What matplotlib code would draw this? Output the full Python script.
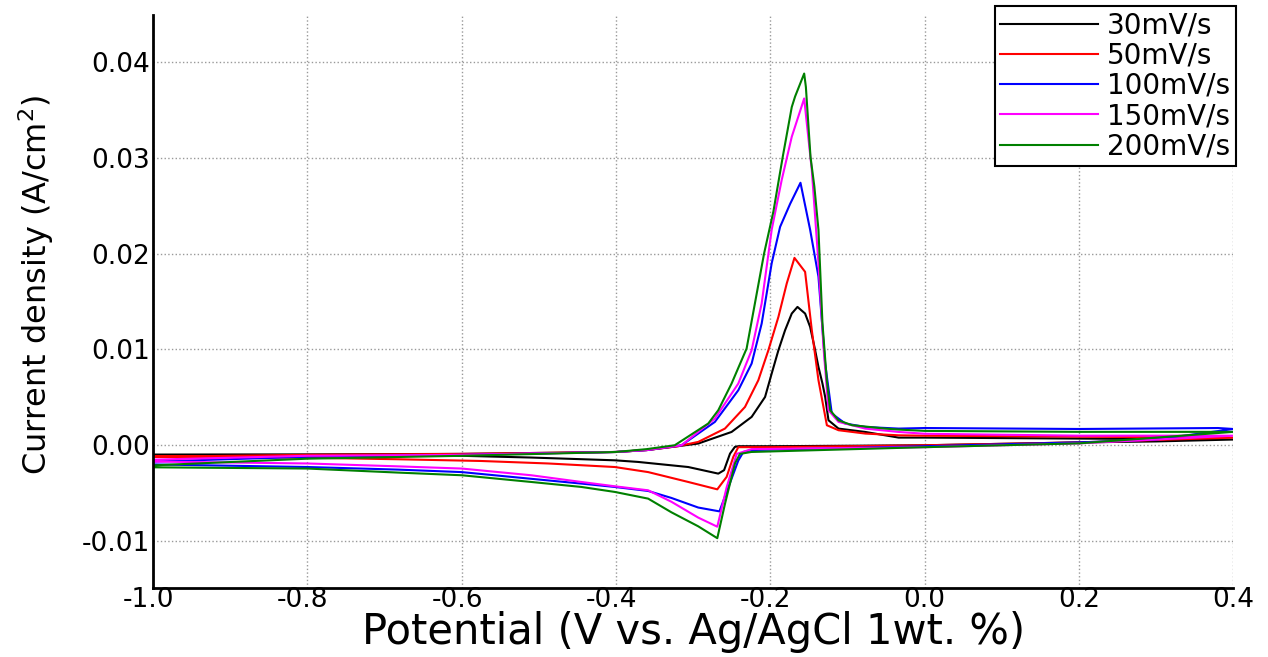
import matplotlib
matplotlib.use("Agg")
import matplotlib.pyplot as plt
import matplotlib.transforms as mtransforms

plt.rcParams['font.family'] = ['DejaVu Sans']
plt.rcParams['axes.unicode_minus'] = False

labels = ["30mV/s", "50mV/s", "100mV/s", "150mV/s", "200mV/s"]
colors = ["black", "red", "blue", "magenta", "green"]

# potential (V) and current density (A/cm2), forward scan then reverse scan
x_30 = [-1.0, -0.8, -0.6, -0.4, -0.36, -0.33, -0.2935, -0.2503, -0.2243, -0.2069, -0.1983,
        -0.1896, -0.181, -0.1723, -0.1649, -0.155, -0.1485, -0.1429, -0.1377, -0.1325, -0.129,
        -0.1247, -0.1117, -0.077, -0.0338, 0.0, 0.2, 0.4,
        0.4, 0.3, 0.2, 0.0, -0.2, -0.2416, -0.246, -0.2523, -0.26, -0.2675, -0.3065, -0.3714,
        -0.4017, -0.5104, -0.6, -0.8, -1.0]
y_30 = [-0.00097, -0.00095, -0.0009, -0.0007, -0.0005, -0.0002, 0.00018, 0.00139, 0.00296, 0.00504, 0.00749,
        0.00992, 0.012, 0.01375, 0.01444, 0.01375, 0.01236, 0.01027, 0.00818, 0.00644, 0.00504,
        0.00261, 0.00174, 0.00139, 0.0008, 0.0008, 0.0007, 0.0006,
        0.0006, 0.0004, 0.0003, 0.0, -0.0001, -0.0001, -0.00017, -0.00087, -0.0026, -0.00296, -0.00227, -0.00174,
        -0.00157, -0.00128, -0.0011, -0.00105, -0.00104]

x_50 = [-1.0, -0.8, -0.6, -0.4, -0.36, -0.32, -0.2935, -0.2589, -0.2329, -0.2156, -0.2026,
        -0.1896, -0.1788, -0.1688, -0.155, -0.1463, -0.1377, -0.1268, -0.1117, -0.077, -0.0338,
        0.0, 0.2, 0.4,
        0.4, 0.2, 0.0, -0.2, -0.2416, -0.248, -0.2567, -0.2688, -0.3065, -0.3584, -0.4017,
        -0.488, -0.575, -0.683, -0.8, -1.0]
y_50 = [-0.0012, -0.001, -0.0009, -0.0007, -0.0005, -0.0001, 0.00035, 0.00174, 0.004, 0.00679, 0.00992,
        0.0134, 0.01689, 0.01956, 0.0181, 0.012, 0.00679, 0.00209, 0.00157, 0.00122, 0.00104,
        0.001, 0.0009, 0.0008,
        0.0008, 0.0003, 0.0, -0.0002, -0.0002, -0.0012, -0.0033, -0.0046, -0.00383, -0.0028, -0.00227,
        -0.0019, -0.00164, -0.00146, -0.0013, -0.00115]

x_100 = [-1.0, -0.8, -0.6, -0.4, -0.36, -0.3152, -0.2719, -0.2416, -0.2243, -0.2113, -0.1983,
         -0.1874, -0.1744, -0.161, -0.1485, -0.1377, -0.129, -0.1204, -0.103, -0.077, -0.0338,
         0.0, 0.2, 0.38, 0.4,
         0.4, 0.3, 0.2, 0.0, -0.2243, -0.235, -0.2416, -0.2545, -0.266, -0.2935, -0.3282, -0.3584,
         -0.4017, -0.445, -0.51, -0.6, -0.683, -0.8, -1.0]
y_100 = [-0.0017, -0.0012, -0.001, -0.0007, -0.0005, 0.0, 0.00244, 0.00574, 0.00853, 0.0127, 0.019,
         0.0228, 0.0252, 0.0274, 0.0225, 0.0176, 0.00853, 0.00331, 0.00227, 0.00191, 0.00174,
         0.0018, 0.0017, 0.0018, 0.0017,
         0.0017, 0.0006, 0.0003, -0.0001, -0.0005, -0.0007, -0.0016, -0.0044, -0.0069, -0.0065, -0.0055, -0.00477,
         -0.00435, -0.004, -0.0035, -0.0028, -0.00254, -0.00227, -0.002]

x_150 = [-1.0, -0.8, -0.6, -0.4, -0.36, -0.3152, -0.2719, -0.2416, -0.2243, -0.2113, -0.1983,
         -0.1853, -0.1723, -0.1562, -0.1528, -0.1463, -0.1377, -0.1312, -0.1247, -0.1117, -0.077,
         -0.0338, 0.0, 0.2, 0.4,
         0.4, 0.2, 0.0, -0.2243, -0.2437, -0.2567, -0.2688, -0.2935, -0.3282, -0.3584, -0.4017,
         -0.445, -0.51, -0.6, -0.683, -0.8, -1.0]
y_150 = [-0.0015, -0.0011, -0.001, -0.0007, -0.0005, 0.0, 0.00279, 0.00644, 0.00992, 0.0148, 0.0225,
         0.0277, 0.0322, 0.0362, 0.0336, 0.0287, 0.019, 0.01027, 0.00366, 0.00244, 0.00174,
         0.00139, 0.0012, 0.001, 0.001,
         0.001, 0.0002, -0.0002, -0.0004, -0.0009, -0.0044, -0.0085, -0.00755, -0.0059, -0.0047, -0.00428,
         -0.00383, -0.00313, -0.00243, -0.0022, -0.0019, -0.0017]

x_200 = [-1.0, -0.8, -0.6, -0.4, -0.36, -0.324, -0.2805, -0.2675, -0.2503, -0.2373, -0.2308,
         -0.2082, -0.1961, -0.184, -0.1723, -0.168, -0.1562, -0.154, -0.148, -0.143, -0.1377,
         -0.1325, -0.1269, -0.1225, -0.1117, -0.0944, -0.051, -0.0338, 0.0, 0.2, 0.4,
         0.4, 0.2, 0.0, -0.2247, -0.2394, -0.2459, -0.2588, -0.2688, -0.2935, -0.3282, -0.3584,
         -0.4017, -0.445, -0.51, -0.6, -0.683, -0.8, -1.0]
y_200 = [-0.0021, -0.0014, -0.0011, -0.0007, -0.0004, 0.0, 0.00227, 0.00366, 0.00644, 0.00888, 0.0101,
         0.02, 0.0244, 0.0301, 0.0353, 0.0364, 0.0388, 0.0374, 0.0301, 0.027, 0.0225,
         0.0127, 0.0068, 0.00366, 0.0026, 0.0021, 0.00174, 0.00164, 0.0015, 0.0014, 0.0014,
         0.0014, 0.0002, -0.0002, -0.0007, -0.0009, -0.0019, -0.0061, -0.0097, -0.00846, -0.007, -0.00557,
         -0.00487, -0.00435, -0.00383, -0.00313, -0.00285, -0.00243, -0.0023]

xticks = [-1.0, -0.8, -0.6, -0.4, -0.2, 0.0, 0.2, 0.4]
xticklabels = ["-1.0", "-0.8", "-0.6", "-0.4", "-0.2", "0.0", "0.2", "0.4"]
yticks = [-0.01, 0.0, 0.01, 0.02, 0.03, 0.04]
yticklabels = ["-0.01", "0.00", "0.01", "0.02", "0.03", "0.04"]

xs = [x_30, x_50, x_100, x_150, x_200]
ys = [y_30, y_50, y_100, y_150, y_200]

fig = plt.figure(figsize=(12.68, 6.57), dpi=100)
ax = fig.add_axes([0.1207, 0.105, 0.852, 0.872])

for i in range(len(labels)):
    ax.plot(xs[i], ys[i], color=colors[i], lw=1.5, label=labels[i])

ax.set_xlim(-1.0, 0.4)
ax.set_ylim(-0.0149, 0.0449)
ax.set_xticks(xticks)
ax.set_xticklabels(xticklabels)
ax.set_yticks(yticks)
ax.set_yticklabels(yticklabels)
ax.tick_params(axis='x', length=0, labelsize=19, pad=-1)
ax.tick_params(axis='y', length=0, labelsize=19, pad=2.5)
# the minus sign hangs left of the centred digits in the original
shift = mtransforms.ScaledTranslation(-4.5 / 100, 0, fig.dpi_scale_trans)
for lab in ax.get_xticklabels():
    if lab.get_text().startswith("-"):
        lab.set_transform(lab.get_transform() + shift)
ax.grid(True, ls=':', color='#999999', lw=1)
for s in ['top', 'right']:
    ax.spines[s].set_visible(False)
for s in ['left', 'bottom']:
    ax.spines[s].set_linewidth(2)

ax.set_xlabel("Potential (V vs. Ag/AgCl 1wt. %)", fontsize=30, labelpad=-1)
ax.set_ylabel("Current density (A/cm$^2$)", fontsize=23, labelpad=18)
ax.yaxis.label.set_y(0.529)

leg = fig.legend(loc='upper right', bbox_to_anchor=(1236 / 1268, 1 - 6 / 657), fontsize=20,
                 handlelength=3.5, handletextpad=0.35, labelspacing=0.08, borderpad=0.2,
                 borderaxespad=0, fancybox=False, framealpha=1)
leg.get_frame().set_edgecolor('black')
leg.get_frame().set_linewidth(1.5)

fig.savefig("out.png", dpi=100)
